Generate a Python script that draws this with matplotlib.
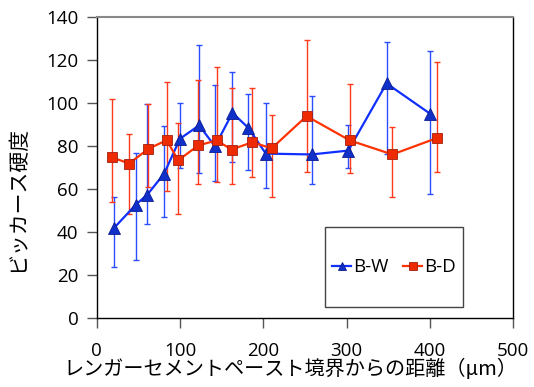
import matplotlib
matplotlib.use("Agg")
import matplotlib.pyplot as plt
from matplotlib.patches import Rectangle

# B-W series (distance um, hardness, upper / lower error bar ends)
x_bw = [21, 47, 61, 81, 100, 123, 142, 163, 182, 203, 258, 302, 348, 400]
y_bw = [41.9, 52.7, 57.4, 67.1, 83.3, 89.5, 79.8, 95.3, 88.4, 76.4, 76.0, 77.8, 109.0, 95.0]
hi_bw = [56.1, 76.7, 99.2, 89.1, 99.7, 126.7, 108.1, 114.3, 104.3, 99.7, 103.1, 89.5, 128.4, 124.0]
lo_bw = [23.6, 26.8, 43.7, 47.0, 69.6, 67.4, 63.7, 72.6, 68.8, 60.5, 62.5, 69.8, 76.0, 57.8]

# B-D series
x_bd = [18, 39, 62, 84, 98, 122, 144, 162, 187, 210, 252, 304, 355, 409]
y_bd = [74.7, 71.8, 78.6, 82.6, 73.3, 80.2, 82.5, 78.3, 81.7, 78.8, 93.8, 82.5, 76.0, 83.7]
hi_bd = [101.6, 85.6, 99.2, 109.8, 90.4, 110.5, 116.7, 107.0, 106.7, 94.3, 129.1, 108.8, 88.8, 119.1]
lo_bd = [54.0, 48.5, 60.8, 59.2, 48.5, 62.5, 63.3, 62.5, 65.6, 56.3, 67.8, 67.4, 56.3, 67.9]

x_ticks = [0, 100, 200, 300, 400, 500]
y_ticks = [0, 20, 40, 60, 80, 100, 120, 140]
x_label = "レンガーセメントペースト境界からの距離（μm）"
y_label = "ビッカース硬度"

plt.rcParams['font.family'] = ['Open Sans', 'Noto Sans CJK JP', 'DejaVu Sans']
jp = ['Noto Sans CJK JP', 'DejaVu Sans']

fig = plt.figure(figsize=(5.34, 3.87), dpi=100)
ax = fig.add_axes([0.181, 0.178, 0.780, 0.779])


def err(y, hi, lo):
    return [[a - b for a, b in zip(y, lo)], [b - a for a, b in zip(y, hi)]]


ax.errorbar(x_bw, y_bw, yerr=err(y_bw, hi_bw, lo_bw), fmt='none',
            ecolor='#2a4dff', elinewidth=1.0, capsize=2.5, capthick=1.0, zorder=2)
ax.errorbar(x_bd, y_bd, yerr=err(y_bd, hi_bd, lo_bd), fmt='none',
            ecolor='#ff3a1a', elinewidth=1.0, capsize=2.5, capthick=1.0, zorder=2)
ax.plot(x_bw, y_bw, color='#1030ff', linewidth=1.6, marker='^', markersize=8.5,
        markerfacecolor='#1030c8', markeredgecolor='#0a1a90', markeredgewidth=0.6,
        label='B-W', zorder=3)
ax.plot(x_bd, y_bd, color='#ff3300', linewidth=1.6, marker='s', markersize=7.5,
        markerfacecolor='#ee2a00', markeredgecolor='#a02010', markeredgewidth=0.6,
        label='B-D', zorder=4)

ax.set_xlim(0, 500)
ax.set_ylim(0, 140)
ax.set_xticks(x_ticks)
ax.set_yticks(y_ticks)
ax.tick_params(axis='both', direction='out', length=7, width=1.0, labelsize=13.5,
               color='#555555')
ax.tick_params(axis='x', pad=10)
ax.tick_params(axis='y', pad=6)

for side in ['left', 'bottom']:
    ax.spines[side].set_color('black')
    ax.spines[side].set_linewidth(1.0)
ax.spines['top'].set_color('#888888')
ax.spines['top'].set_linewidth(1.5)
ax.spines['right'].set_color('black')
ax.spines['right'].set_linewidth(1.0)

ax.set_xlabel(x_label, fontsize=14.5, family=jp)
ax.xaxis.set_label_coords(0.466, -0.135)
ax.set_ylabel(y_label, fontsize=15, family=jp)
ax.yaxis.set_label_coords(-0.165, 0.395)

ax.add_patch(Rectangle((0.548, 0.036), 0.332, 0.265, transform=ax.transAxes,
                       fill=False, edgecolor='#444444', linewidth=1.0, zorder=5))
ax.legend(loc='center', bbox_to_anchor=(0.714, 0.168), ncol=2, frameon=False,
          fontsize=13.5, handlelength=1.0, handletextpad=0.1, columnspacing=0.8,
          markerscale=0.75)

fig.savefig('out.png', dpi=100)
